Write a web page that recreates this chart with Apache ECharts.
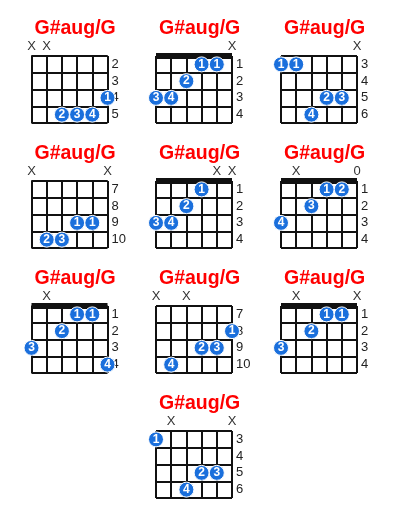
<!DOCTYPE html>
<html style="height: 100%">
<head>
    <meta charset="utf-8" />
    <title>G#aug/G</title>
    <script type="text/javascript" src="https://cdn.jsdelivr.net/npm/echarts@6/dist/echarts.min.js"></script>
</head>
<body style="height: 100%; margin: 0; background: #fff">
    <div id="container" style="width: 400px; height: 520px"></div>
</body>
</html>
<script type="text/javascript">
    // one entry per chord diagram, read left to right, top to bottom
    var chordNames = ['G#aug/G', 'G#aug/G', 'G#aug/G', 'G#aug/G', 'G#aug/G',
                      'G#aug/G', 'G#aug/G', 'G#aug/G', 'G#aug/G', 'G#aug/G'];

    // fret number shown beside each row
    var fretLabels = [
        ['2', '3', '4', '5'],
        ['1', '2', '3', '4'],
        ['3', '4', '5', '6'],
        ['7', '8', '9', '10'],
        ['1', '2', '3', '4'],
        ['1', '2', '3', '4'],
        ['1', '2', '3', '4'],
        ['7', '8', '9', '10'],
        ['1', '2', '3', '4'],
        ['3', '4', '5', '6']
    ];

    // mark above each string (1 = low E on the left)
    var stringMarks = [
        ['X', 'X', '', '', '', ''],
        ['', '', '', '', '', 'X'],
        ['', '', '', '', '', 'X'],
        ['X', '', '', '', '', 'X'],
        ['', '', '', '', 'X', 'X'],
        ['', 'X', '', '', '', '0'],
        ['', 'X', '', '', '', ''],
        ['X', '', 'X', '', '', ''],
        ['', 'X', '', '', '', 'X'],
        ['', 'X', '', '', '', 'X']
    ];

    var hasNut = [false, true, false, false, true, true, true, false, true, false];

    // [string, fret row (1-4), finger]
    var fingerDots = [
        [[6, 3, '1'], [3, 4, '2'], [4, 4, '3'], [5, 4, '4']],
        [[4, 1, '1'], [5, 1, '1'], [3, 2, '2'], [1, 3, '3'], [2, 3, '4']],
        [[1, 1, '1'], [2, 1, '1'], [4, 3, '2'], [5, 3, '3'], [3, 4, '4']],
        [[4, 3, '1'], [5, 3, '1'], [2, 4, '2'], [3, 4, '3']],
        [[4, 1, '1'], [3, 2, '2'], [1, 3, '3'], [2, 3, '4']],
        [[4, 1, '1'], [5, 1, '2'], [3, 2, '3'], [1, 3, '4']],
        [[4, 1, '1'], [5, 1, '1'], [3, 2, '2'], [1, 3, '3'], [6, 4, '4']],
        [[6, 2, '1'], [4, 3, '2'], [5, 3, '3'], [2, 4, '4']],
        [[4, 1, '1'], [5, 1, '1'], [3, 2, '2'], [1, 3, '3']],
        [[1, 1, '1'], [4, 3, '2'], [5, 3, '3'], [3, 4, '4']]
    ];

    var colLeft = [31.5, 156, 281];
    var gridW = 76, gridH = 67;
    var lineColor = '#111';
    var dotColor = '#1a6fdc';

    var option = {
        backgroundColor: '#fff',
        animation: false,
        title: [],
        grid: [],
        xAxis: [],
        yAxis: [],
        series: []
    };

    chordNames.forEach(function (name, i) {
        var left = i < 9 ? colLeft[i % 3] : colLeft[1];
        var top = 56 + 125 * Math.floor(i / 3);
        var marks = stringMarks[i];

        option.title.push({
            text: name,
            left: left + 3,
            top: top - 37,
            padding: 0,
            textStyle: { color: '#ff0000', fontSize: 19.5, fontWeight: 'bold', fontFamily: 'Liberation Sans' }
        });
        option.grid.push({ left: left, top: top, width: gridW, height: gridH });
        option.xAxis.push({
            gridIndex: i,
            type: 'value',
            position: 'top',
            min: 1,
            max: 6,
            interval: 1,
            axisLine: { show: true, lineStyle: { color: lineColor, width: hasNut[i] ? 6 : 2, cap: 'butt' } },
            axisTick: { show: false },
            axisLabel: {
                margin: 3,
                showMinLabel: true,
                showMaxLabel: true,
                color: '#333',
                fontSize: 13,
                fontFamily: 'Liberation Sans',
                formatter: function (v) { return marks[v - 1] || ''; }
            },
            splitLine: { show: true, lineStyle: { color: lineColor, width: 2 } }
        });
        option.yAxis.push({
            gridIndex: i,
            type: 'category',
            position: 'right',
            inverse: true,
            data: fretLabels[i],
            axisLine: { show: false },
            axisTick: { show: false },
            axisLabel: { margin: 4, color: '#222', fontSize: 13, fontFamily: 'Liberation Sans', interval: 0 },
            splitLine: { show: true, interval: 0, lineStyle: { color: lineColor, width: 2 } }
        });
        option.series.push({
            type: 'scatter',
            xAxisIndex: i,
            yAxisIndex: i,
            clip: false,
            symbolSize: 15,
            itemStyle: { color: dotColor, borderColor: '#fff', borderWidth: 1, opacity: 1 },
            label: {
                show: true,
                position: 'inside',
                color: '#fff',
                fontSize: 12,
                fontWeight: 'bold',
                fontFamily: 'Liberation Sans',
                formatter: function (p) { return p.data[2]; }
            },
            data: fingerDots[i].map(function (d) { return [d[0], d[1] - 1, d[2]]; })
        });
    });

    var myChart = echarts.init(document.getElementById('container'));
    myChart.setOption(option);
</script>
